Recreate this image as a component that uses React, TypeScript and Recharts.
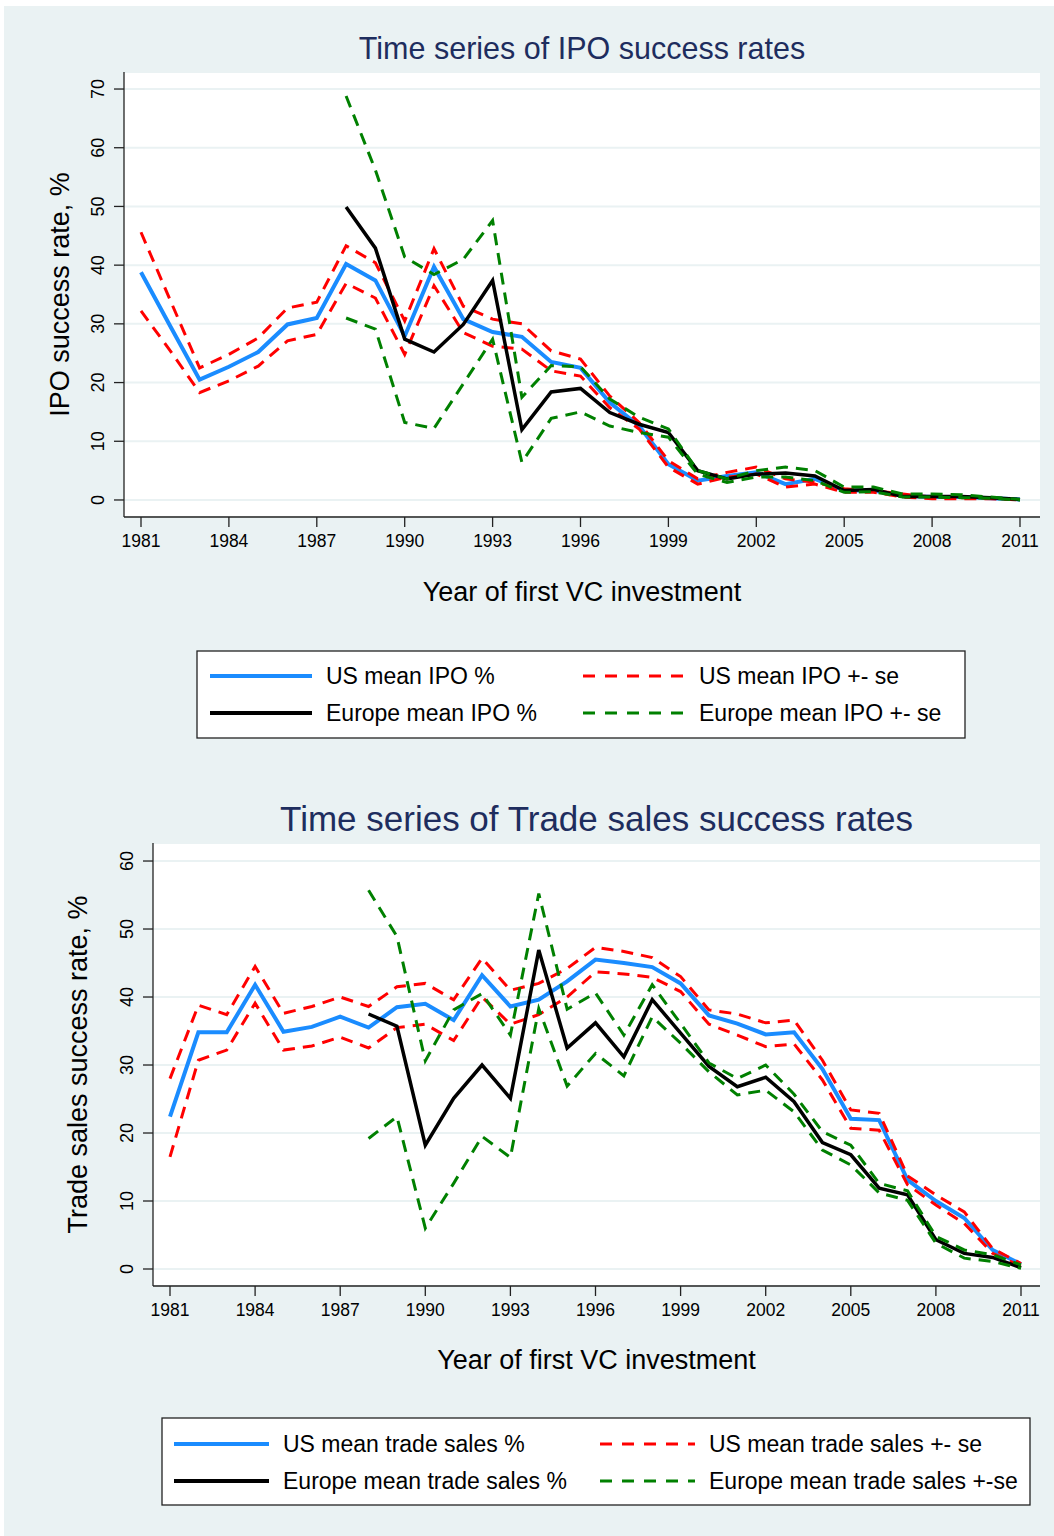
import React from 'react';
import { LineChart, Line, XAxis, YAxis, CartesianGrid } from 'recharts';

// Year of first VC investment
const years = [
  1981, 1982, 1983, 1984, 1985, 1986, 1987, 1988, 1989, 1990, 1991, 1992, 1993, 1994, 1995, 1996,
  1997, 1998, 1999, 2000, 2001, 2002, 2003, 2004, 2005, 2006, 2007, 2008, 2009, 2010, 2011,
];
const xTicks = [1981, 1984, 1987, 1990, 1993, 1996, 1999, 2002, 2005, 2008, 2011];
const ipoTicks = [0, 10, 20, 30, 40, 50, 60, 70];
const tradeTicks = [0, 10, 20, 30, 40, 50, 60];

// IPO success rates, %
const usIpo = [38.8, 29.6, 20.5, 22.7, 25.2, 29.9, 31.0, 40.2, 37.4, 27.9, 39.7, 30.8, 28.6, 27.8, 23.5, 22.5, 16.6, 12.6, 6.1, 3.3, 4.1, 4.7, 2.7, 3.6, 1.6, 1.6, 0.7, 0.5, 0.5, 0.3, 0.1];
const usIpoHi = [45.6, 34.0, 22.5, 24.8, 27.6, 32.7, 33.7, 43.3, 40.4, 30.5, 42.8, 33.0, 30.8, 30.0, 25.4, 24.0, 17.7, 13.2, 6.7, 3.6, 4.7, 5.6, 3.6, 3.0, 1.9, 1.6, 1.0, 0.5, 0.4, 0.3, 0.1];
const usIpoLo = [32.2, 25.4, 18.3, 20.3, 22.8, 27.1, 28.2, 36.9, 34.4, 24.8, 36.5, 28.5, 26.2, 25.7, 22.0, 21.1, 15.7, 12.1, 5.6, 2.7, 3.9, 4.4, 2.2, 2.7, 1.3, 1.3, 0.5, 0.2, 0.2, 0.2, 0.0];
const euIpo = [null, null, null, null, null, null, null, 49.9, 42.9, 27.4, 25.2, 29.9, 37.4, 12.0, 18.4, 19.0, 14.9, 12.9, 11.5, 5.0, 3.6, 4.4, 4.6, 4.1, 1.6, 1.8, 0.6, 0.6, 0.6, 0.4, 0.1];
const euIpoHi = [null, null, null, null, null, null, null, 68.8, 56.2, 41.4, 38.4, 41.0, 47.6, 17.5, 22.9, 22.7, 17.2, 14.1, 12.1, 5.0, 3.6, 5.0, 5.6, 5.0, 2.2, 2.2, 1.0, 1.0, 0.9, 0.5, 0.1];
const euIpoLo = [null, null, null, null, null, null, null, 31.0, 29.1, 13.2, 12.2, 19.8, 27.4, 6.4, 13.9, 15.0, 12.6, 11.5, 10.7, 4.4, 3.0, 3.9, 3.9, 3.3, 1.3, 1.4, 0.5, 0.5, 0.4, 0.3, 0.0];

// Trade sales success rates, %
const usTrade = [22.4, 34.8, 34.8, 41.8, 34.9, 35.6, 37.1, 35.5, 38.5, 39.0, 36.6, 43.2, 38.6, 39.6, 42.3, 45.5, 45.0, 44.4, 42.0, 37.3, 36.1, 34.5, 34.8, 29.4, 22.1, 21.9, 13.1, 10.0, 7.5, 2.8, 0.7];
const usTradeHi = [28.0, 38.8, 37.4, 44.5, 37.6, 38.6, 40.0, 38.6, 41.5, 42.0, 39.6, 45.7, 41.0, 42.0, 44.2, 47.3, 46.7, 45.8, 43.0, 38.1, 37.5, 36.2, 36.6, 30.7, 23.4, 22.9, 13.7, 10.9, 8.4, 3.0, 0.8];
const usTradeLo = [16.5, 30.7, 32.2, 39.1, 32.2, 32.8, 34.1, 32.5, 35.5, 36.0, 33.6, 40.0, 36.0, 37.4, 40.0, 43.7, 43.4, 42.9, 40.8, 36.0, 34.4, 32.7, 33.1, 27.8, 20.7, 20.4, 12.4, 9.4, 6.7, 2.3, 0.4];
const euTrade = [null, null, null, null, null, null, null, 37.5, 35.7, 18.2, 25.1, 30.0, 25.1, 46.9, 32.5, 36.2, 31.2, 39.6, 34.7, 29.8, 26.8, 28.2, 24.6, 18.6, 16.8, 11.9, 10.9, 4.3, 2.3, 1.7, 0.2];
const euTradeHi = [null, null, null, null, null, null, null, 55.7, 48.9, 30.6, 38.1, 40.5, 34.4, 55.2, 38.2, 40.6, 34.4, 41.8, 36.1, 30.3, 28.0, 30.0, 25.7, 20.2, 18.2, 12.6, 11.5, 4.8, 2.8, 2.1, 0.6];
const euTradeLo = [null, null, null, null, null, null, null, 19.2, 22.4, 6.0, 12.6, 19.5, 16.4, 38.3, 26.9, 31.7, 28.4, 37.1, 33.2, 29.0, 25.6, 26.3, 23.1, 17.5, 15.3, 11.2, 10.1, 3.8, 1.6, 1.1, 0.1];

const ipoData = years.map((year, i) => ({
  year, us: usIpo[i], usHi: usIpoHi[i], usLo: usIpoLo[i], eu: euIpo[i], euHi: euIpoHi[i], euLo: euIpoLo[i],
}));
const tradeData = years.map((year, i) => ({
  year, us: usTrade[i], usHi: usTradeHi[i], usLo: usTradeLo[i], eu: euTrade[i], euHi: euTradeHi[i], euLo: euTradeLo[i],
}));

const FONT = '"Liberation Sans", Arial, Helvetica, sans-serif';
const BG = '#eaf2f3';
const NAVY = '#1e2d5e';
const BLUE = '#1a8cff';
const RED = '#ff0000';
const GREEN = '#008000';
const DASH = '12 8';

const SERIES = [
  { key: 'us', color: BLUE, width: 4, dash: undefined },
  { key: 'usHi', color: RED, width: 3, dash: DASH },
  { key: 'usLo', color: RED, width: 3, dash: DASH },
  { key: 'eu', color: '#000', width: 3.5, dash: undefined },
  { key: 'euHi', color: GREEN, width: 3, dash: DASH },
  { key: 'euLo', color: GREEN, width: 3, dash: DASH },
];

const YTick = (props: any) => {
  const { x, y, payload } = props;
  const cx = x - 16;
  return (
    <text x={cx} y={y} transform={`rotate(-90 ${cx} ${y})`} textAnchor="middle" dominantBaseline="central"
      fontSize={18} fill="#000" fontFamily={FONT}>
      {payload.value}
    </text>
  );
};

const XTick = (props: any) => {
  const { x, y, payload } = props;
  return (
    <text x={x} y={y + 20} textAnchor="middle" fontSize={17.5} fill="#000" fontFamily={FONT}>
      {payload.value}
    </text>
  );
};

const renderLines = () =>
  SERIES.map((s) => (
    <Line key={s.key} type="linear" dataKey={s.key} stroke={s.color} strokeWidth={s.width}
      strokeDasharray={s.dash} dot={false} activeDot={false} isAnimationActive={false} connectNulls={false} />
  ));

const axisProps = { stroke: '#222', strokeWidth: 1.3, tickSize: 10, tickMargin: 0 };

interface LegendRow { label: string; color: string; dash?: string; width: number }

const Legend = ({ x, y, w, h, rows, col1, col2, sampleW, rowY }: {
  x: number; y: number; w: number; h: number; rows: LegendRow[]; col1: number; col2: number; sampleW: number; rowY: number[];
}) => (
  <g>
    <rect x={x} y={y} width={w} height={h} fill="#fff" stroke="#222" strokeWidth={1.3} />
    {rows.map((r, i) => {
      const cx = i % 2 === 0 ? col1 : col2;
      const cy = rowY[Math.floor(i / 2)];
      return (
        <g key={r.label}>
          <line x1={cx} x2={cx + sampleW} y1={cy} y2={cy} stroke={r.color} strokeWidth={r.width} strokeDasharray={r.dash} />
          <text x={cx + sampleW + 14} y={cy} dominantBaseline="central" fontSize={23} fontFamily={FONT} fill="#000">
            {r.label}
          </text>
        </g>
      );
    })}
  </g>
);

const ipoLegend: LegendRow[] = [
  { label: 'US mean IPO %', color: BLUE, width: 4 },
  { label: 'US mean IPO +- se', color: RED, width: 3, dash: '12 10' },
  { label: 'Europe mean IPO %', color: '#000', width: 4 },
  { label: 'Europe mean IPO +- se', color: GREEN, width: 3, dash: '12 10' },
];
const tradeLegend: LegendRow[] = [
  { label: 'US mean trade sales %', color: BLUE, width: 4 },
  { label: 'US mean trade sales +- se', color: RED, width: 3, dash: '12 10' },
  { label: 'Europe mean trade sales %', color: '#000', width: 4 },
  { label: 'Europe mean trade sales +-se', color: GREEN, width: 3, dash: '12 10' },
];

export default function App() {
  return (
    <div style={{ position: 'absolute', left: 4, top: 6, width: 1050, height: 1530, background: BG, fontFamily: FONT }}>
      <div style={{ position: 'absolute', left: 0, top: 0 }}>
        <LineChart width={1050} height={760} data={ipoData} margin={{ top: 66, right: 14, bottom: 159, left: 40 }}>
          <CartesianGrid vertical={false} stroke={BG} strokeWidth={2} fill="#fff" />
          <XAxis dataKey="year" type="number" domain={[1981, 2011]} ticks={xTicks} padding={{ left: 17, right: 20 }}
            height={90} tick={<XTick />} {...axisProps} />
          <YAxis type="number" domain={[-2.9, 72.9]} ticks={ipoTicks} width={80} tick={<YTick />} {...axisProps} />
          {renderLines()}
        </LineChart>
      </div>
      <div style={{ position: 'absolute', left: 0, top: 760 }}>
        <LineChart width={1050} height={770} data={tradeData} margin={{ top: 77, right: 14, bottom: 160, left: 69 }}>
          <CartesianGrid vertical={false} stroke={BG} strokeWidth={2} fill="#fff" />
          <XAxis dataKey="year" type="number" domain={[1981, 2011]} ticks={xTicks} padding={{ left: 17, right: 19 }}
            height={90} tick={<XTick />} {...axisProps} />
          <YAxis type="number" domain={[-2.5, 62.65]} ticks={tradeTicks} width={80} tick={<YTick />} {...axisProps} />
          {renderLines()}
        </LineChart>
      </div>
      <svg width={1050} height={1530} style={{ position: 'absolute', left: 0, top: 0, pointerEvents: 'none' }}>
        <text x={578} y={42} textAnchor="middle" dominantBaseline="central" fontSize={30.5} fill={NAVY} fontFamily={FONT}>
          Time series of IPO success rates
        </text>
        <text x={56} y={288.5} transform="rotate(-90 56 288.5)" textAnchor="middle" dominantBaseline="central" fontSize={27} fontFamily={FONT}>
          IPO success rate, %
        </text>
        <text x={578} y={586} textAnchor="middle" dominantBaseline="central" fontSize={27} fontFamily={FONT}>
          Year of first VC investment
        </text>
        <Legend x={193} y={645} w={768} h={87} rows={ipoLegend} col1={206} col2={579} sampleW={102} rowY={[670, 707]} />

        <text x={592.5} y={812} textAnchor="middle" dominantBaseline="central" fontSize={35} fill={NAVY} fontFamily={FONT}>
          Time series of Trade sales success rates
        </text>
        <text x={74} y={1058.5} transform="rotate(-90 74 1058.5)" textAnchor="middle" dominantBaseline="central" fontSize={27} fontFamily={FONT}>
          Trade sales success rate, %
        </text>
        <text x={592.5} y={1354} textAnchor="middle" dominantBaseline="central" fontSize={27} fontFamily={FONT}>
          Year of first VC investment
        </text>
        <Legend x={158} y={1412} w={868} h={87} rows={tradeLegend} col1={170} col2={596} sampleW={95} rowY={[1438, 1475]} />
      </svg>
    </div>
  );
}
